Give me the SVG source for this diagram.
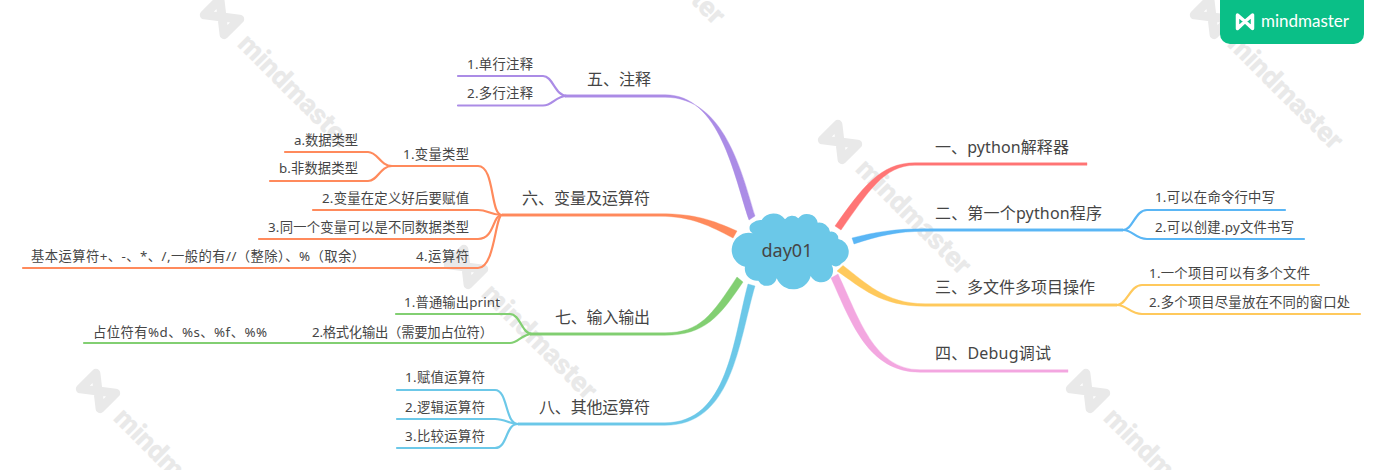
<svg xmlns="http://www.w3.org/2000/svg" width="1381" height="470" viewBox="0 0 1381 470">
<style>
text{font-family:"Noto Sans","Noto Sans CJK SC",sans-serif;fill:#454545}
.m{font-size:16px}
.s{font-size:13.33px}
.c{font-size:18px;text-anchor:middle}
.wm{font-family:Roboto,"Noto Sans",sans-serif;font-weight:900;font-size:28px;fill:#e9e9e9}
.wl{fill:none;stroke:#e9e9e9;stroke-width:9;stroke-linejoin:round}
#connectors path.l{fill:none;stroke-width:2.2;stroke-linecap:round}
.red{fill:#ff7575;stroke:#ff7575}.blue{fill:#5ab6f5;stroke:#5ab6f5}.yel{fill:#ffc95c;stroke:#ffc95c}.pink{fill:#f3a7e0;stroke:#f3a7e0}
.pur{fill:#ab8ce6;stroke:#ab8ce6}.ora{fill:#ff8a5c;stroke:#ff8a5c}.gre{fill:#82cf72;stroke:#82cf72}.cya{fill:#6cc8e8;stroke:#6cc8e8}
#connectors path{stroke-width:.4}
</style>
<defs>
<g id="wm">
<path class="wl" d="M-14,-11 L0,0 L14,-11 V11 L0,0 L-14,11 Z"/>
<text class="wm" x="30" y="10" textLength="150">mindmaster</text>
</g>
</defs>
<rect width="1381" height="470" fill="#fff"/>
<g id="watermarks">
<use href="#wm" transform="translate(222,17) rotate(45)"/>
<use href="#wm" transform="translate(594,-108) rotate(45)"/>
<use href="#wm" transform="translate(840,142) rotate(45)"/>
<use href="#wm" transform="translate(1212,17) rotate(45)"/>
<use href="#wm" transform="translate(466,267) rotate(45)"/>
<use href="#wm" transform="translate(98,391) rotate(45)"/>
<use href="#wm" transform="translate(1088,391) rotate(45)"/>
</g>
<g id="connectors">
<path class="red" d="M835,226 C862,188 880,162.75 915,162.75 H1087 V165.25 H915 C884,165.25 868,192 841,230 Z"/>
<path class="blue" d="M852,238 C875,232 895,228.75 925,228.75 H1123 V231.25 H925 C897,231.25 878,236 854,244 Z"/>
<path class="yel" d="M843,265.5 C865,282 885,303.75 925,303.75 H1117 V306.25 H925 C880,306.25 862,288 837,271 Z"/>
<path class="pink" d="M831,278 C851,322 868,372.25 920,372.25 H1068 V369.75 H920 C874,369.75 859,318 838,274 Z"/>
<path class="pur" d="M749,220 C734,176 720,94.75 665,94.75 H565 V97.25 H665 C725,97.25 742,174 755,216 Z"/>
<path class="ora" d="M737,231 C712,220 695,213.75 660,213.75 H502 V216.25 H660 C692,216.25 710,226 733,238 Z"/>
<path class="gre" d="M737,277 C712,315 700,332.75 665,332.75 H530 V335.25 H665 C705,335.25 720,316 743,282 Z"/>
<path class="cya" d="M748,284 C733,340 728,422.75 665,422.75 H518 V425.25 H665 C732,425.25 738,345 755,286 Z"/>
<path class="l blue" d="M1123,230 C1133,230 1135,210 1147,210 H1285"/>
<path class="l blue" d="M1123,230 C1133,230 1135,239 1147,239 H1304"/>
<path class="l yel" d="M1117,305 C1127,305 1130,285 1142,285 H1319"/>
<path class="l yel" d="M1117,305 C1127,305 1130,314 1142,314 H1360"/>
<path class="l pur" d="M458,76 H543 C553,76 555,96 567,96"/>
<path class="l pur" d="M458,105.5 H543 C553,105.5 555,96 567,96"/>
<path class="l ora" d="M390,166 H478 C495,166 490,215 502,215"/>
<path class="l ora" d="M285,152 H368 C378,152 380,166 392,166"/>
<path class="l ora" d="M270,181 H368 C378,181 380,166 392,166"/>
<path class="l ora" d="M313,210 H478 C488,210 490,215 502,215"/>
<path class="l ora" d="M259,239 H478 C495,239 492,215 502,215"/>
<path class="l ora" d="M23,268 H478 C495,268 495,216 502,215"/>
<path class="l gre" d="M396,314 H510 C520,314 522,334 532,334"/>
<path class="l gre" d="M84,343 H510 C518,343 522,334 532,334"/>
<path class="l cya" d="M397,390 H495 C508,390 505,424 518,424"/>
<path class="l cya" d="M397,419 H495 C505,419 510,424 518,424"/>
<path class="l cya" d="M397,448 H495 C508,448 505,424 518,424"/>
</g>
<g id="center">
<path fill="#6bc8e8" d="M752.7,222.7 A12,12 0 0 1 761.7,220 A14,14 0 0 1 785,219.3 A9,9 0 0 1 798.3,218.3 A11,11 0 0 1 817.7,222.7 A11,11 0 0 1 830,231.7 A7,7 0 0 1 838.3,239 A13,13 0 0 1 841.7,263.3 A7,7 0 0 1 831.7,265 A11,11 0 0 1 810.7,276 A18,18 0 0 1 776.7,278.3 A10,10 0 0 1 758.3,280.7 A12,12 0 0 1 745,266.7 A16,16 0 0 1 752.7,233.3 A6,6 0 0 1 752.7,222.7 Z"/>
<text class="c" x="787" y="257">day01</text>
</g>
<g id="n1"><text class="m" x="935" y="153" textLength="134">一、python解释器</text></g>
<g id="n2"><text class="m" x="935" y="219" textLength="167">二、第一个python程序</text>
<text class="s" x="1155" y="202" textLength="120">1.可以在命令行中写</text>
<text class="s" x="1155" y="232" textLength="139">2.可以创建.py文件书写</text></g>
<g id="n3"><text class="m" x="935" y="293" textLength="160">三、多文件多项目操作</text>
<text class="s" x="1149" y="278" textLength="161">1.一个项目可以有多个文件</text>
<text class="s" x="1149" y="307" textLength="201">2.多个项目尽量放在不同的窗口处</text></g>
<g id="n4"><text class="m" x="935" y="359" textLength="116">四、Debug调试</text></g>
<g id="n5"><text class="m" x="587" y="85" textLength="64">五、注释</text>
<text class="s" x="467" y="69" textLength="66">1.单行注释</text>
<text class="s" x="467" y="98" textLength="66">2.多行注释</text></g>
<g id="n6"><text class="m" x="522" y="204" textLength="128">六、变量及运算符</text>
<text class="s" x="403" y="159" textLength="66">1.变量类型</text>
<text class="s" x="294" y="145" textLength="64">a.数据类型</text>
<text class="s" x="279" y="173" textLength="79">b.非数据类型</text>
<text class="s" x="322" y="203" textLength="147">2.变量在定义好后要赋值</text>
<text class="s" x="268" y="232" textLength="201">3.同一个变量可以是不同数据类型</text>
<text class="s" x="416" y="261" textLength="53">4.运算符</text>
<text class="s" x="31" y="261" textLength="334">基本运算符+、-、*、/,一般的有//（整除）、%（取余）</text></g>
<g id="n7"><text class="m" x="555" y="323" textLength="95">七、输入输出</text>
<text class="s" x="404" y="307" textLength="96">1.普通输出print</text>
<text class="s" x="312" y="337" textLength="181">2.格式化输出（需要加占位符）</text>
<text class="s" x="93" y="337" textLength="174">占位符有%d、%s、%f、%%</text></g>
<g id="n8"><text class="m" x="539" y="413" textLength="111">八、其他运算符</text>
<text class="s" x="405" y="382" textLength="80">1.赋值运算符</text>
<text class="s" x="405" y="412" textLength="80">2.逻辑运算符</text>
<text class="s" x="405" y="441" textLength="80">3.比较运算符</text></g>
<g id="badge">
<path fill="#0abf87" d="M1220,-1 H1364 V34 A10,10 0 0 1 1354,44 H1230 A10,10 0 0 1 1220,34 Z"/>
<path fill="none" stroke="#fff" stroke-width="3.500" stroke-linejoin="round" d="M1237.500,15 L1245,21.500 L1252.500,15 V28.500 L1245,21.500 L1237.500,28.500 Z"/>
<text x="1261" y="27" textLength="88" style="font-family:Lato,Roboto,sans-serif;font-size:17px;fill:#fff">mindmaster</text>
</g>
</svg>
